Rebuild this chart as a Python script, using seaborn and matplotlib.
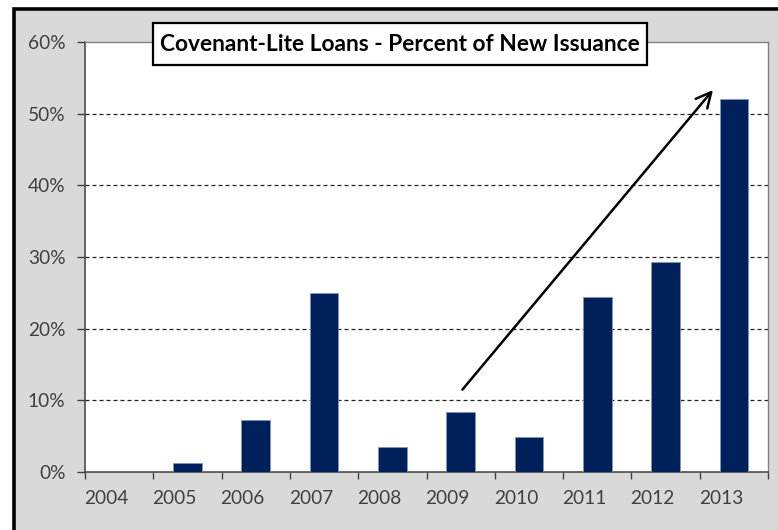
import numpy as np
import pandas as pd
import matplotlib
matplotlib.use("Agg")
import matplotlib.pyplot as plt
from matplotlib.patches import Rectangle
import seaborn as sns

# Covenant-lite share of new leveraged loan issuance (percent)
years = ["2004", "2005", "2006", "2007", "2008", "2009", "2010", "2011", "2012", "2013"]
share_pct = [0.0, 1.2, 7.3, 25.0, 3.5, 8.4, 4.9, 24.4, 29.3, 52.0]
y_ticks = [0, 10, 20, 30, 40, 50, 60]

title_text = "Covenant-Lite Loans - Percent of New Issuance"

sns.set_theme(style="white")
plt.rcParams["font.family"] = ["Lato", "DejaVu Sans"]

W, H = 778, 530
fig = plt.figure(figsize=(W / 100, H / 100), dpi=100, facecolor="white")

# grey chart frame with a heavy black edge
fig.add_artist(Rectangle((14 / W, -0.05), 1.1, (H - 9) / H + 0.05,
                         transform=fig.transFigure, facecolor="#D9D9D9",
                         edgecolor="black", linewidth=2.6, zorder=0))

ax = fig.add_axes([85 / W, 1 - 472 / H, (768 - 85) / W, (472 - 42) / H])
ax.set_facecolor("white")

df = pd.DataFrame({"year": years, "share": share_pct})
sns.barplot(data=df, x="year", y="share", color="#00205B", saturation=1,
            width=0.42, edgecolor="#7F95C0", linewidth=0.6, ax=ax, zorder=3)

ax.set_xlim(-0.5, len(years) - 0.5)
ax.set_ylim(0, 60)
ax.set_xlabel("")
ax.set_ylabel("")

# dashed horizontal gridlines
for v in y_ticks[1:-1]:
    ax.axhline(v, color="#222222", linewidth=0.9, linestyle=(0, (3.2, 2.4)), zorder=1)

ax.set_yticks(y_ticks)
ax.set_yticklabels([f"{v}%" for v in y_ticks])
ax.tick_params(axis="y", direction="out", length=6, width=1, color="#404040",
               labelsize=13.8, labelcolor="#404040", pad=8, left=True)

# tick marks between categories, labels offset to the right of each mark
ax.set_xticks(np.arange(-0.5, len(years), 1.0))
ax.set_xticklabels([])
ax.tick_params(axis="x", which="major", direction="out", length=5, width=1,
               color="#404040", bottom=True)
ax.set_xticks(np.arange(len(years)) - 0.19, minor=True)
ax.set_xticklabels(years, minor=True)
ax.tick_params(axis="x", which="minor", length=0, labelsize=13.8,
               labelcolor="#404040", pad=13)

for side in ["left", "bottom"]:
    ax.spines[side].set_color("#404040")
    ax.spines[side].set_linewidth(1.1)
for side in ["top", "right"]:
    ax.spines[side].set_color("#808080")
    ax.spines[side].set_linewidth(1.0)
    ax.spines[side].set_visible(True)

# upward trend arrow from 2009
ax.annotate("", xy=(8.72, 53.6), xytext=(5.0, 11.2),
            arrowprops=dict(arrowstyle="->,head_length=0.9,head_width=0.45",
                            color="black", linewidth=1.8), zorder=5)

# boxed title
fig.add_artist(Rectangle((153 / W, 1 - 65 / H), (647 - 153) / W, (65 - 23) / H,
                         transform=fig.transFigure, facecolor="white",
                         edgecolor="black", linewidth=1.6, zorder=6))
fig.text(400 / W, 1 - 44.5 / H, title_text, ha="center", va="center",
         fontsize=16.4, fontweight="bold", color="black", zorder=7)

fig.savefig("out.png", dpi=100, facecolor=fig.get_facecolor())
